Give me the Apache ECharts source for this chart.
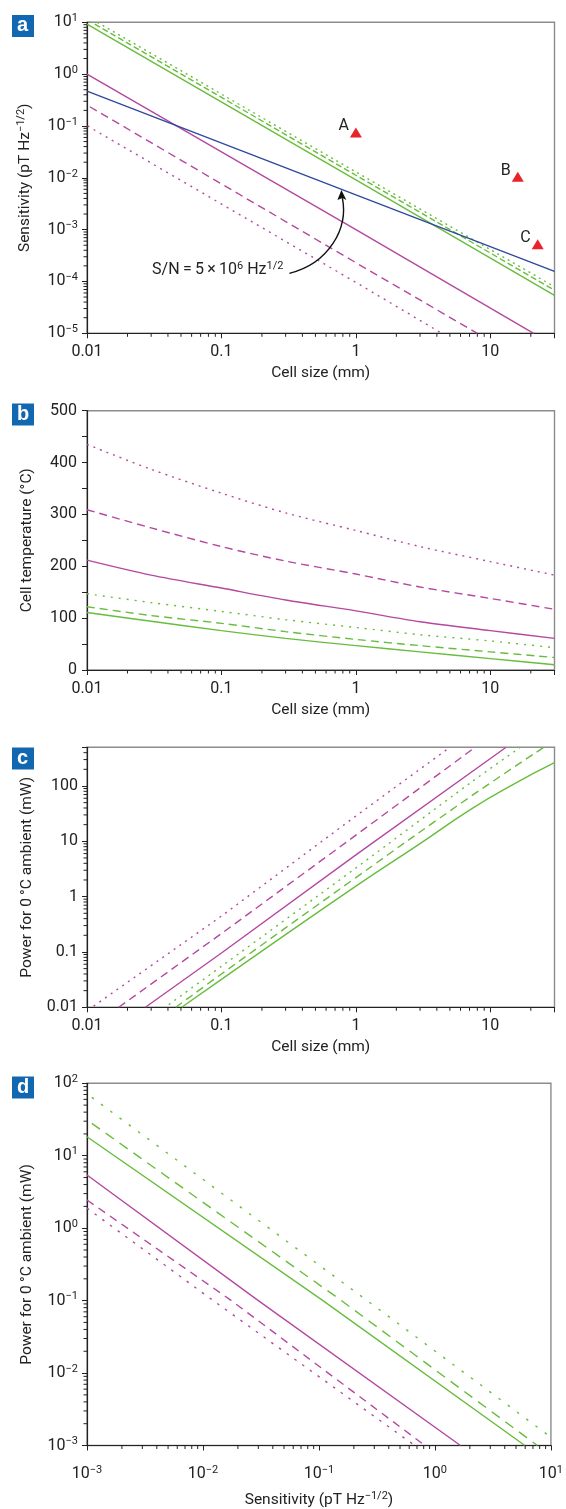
<!DOCTYPE html>
<html>
<head>
<meta charset="utf-8">
<script src="https://cdn.jsdelivr.net/npm/echarts@6/dist/echarts.min.js"></script>
<style>
html,body{margin:0;padding:0;background:#fff;}
#c{width:566px;height:1509px;}
</style>
</head>
<body>
<div id="c"></div>
<script>
// ---------------- DATA ----------------
// Panel a : sensitivity vs cell size  [cellSize_mm, sensitivity]
const a_greenSolid   = [[0.01, 9.2], [1, 9.1e-3], [30, 5.4e-5]];
const a_greenDashed  = [[0.01, 11.3], [1, 1.12e-2], [30, 6.8e-5]];
const a_greenDotted  = [[0.01, 13], [1, 1.3e-2], [30, 7.9e-5]];
const a_magSolid     = [[0.01, 1.0], [1, 1.0e-3], [21, 1.0e-5]];
const a_magDashed    = [[0.0105, 0.235], [1, 2.3e-4], [8, 1.0e-5]];
const a_magDotted    = [[0.0101, 0.1], [1, 9.6e-5], [4.35, 1.0e-5]];
const a_blue         = [[0.01, 0.47], [1, 4.7e-3], [30, 1.57e-4]];
const a_points       = [['A', 1.0, 0.075], ['B', 16, 0.0105], ['C', 22.5, 5.2e-4]];
const a_annotText    = 'S/N\u2009=\u20095\u2009\u00d7\u200910{sup|6} Hz{sup|1/2}';
const a_annotAnchor  = [0.0305, 1.65e-4];   // left end of the annotation text
const a_arrowStart   = [0.32, 1.43e-4];
const a_arrowTip     = [0.78, 5.8e-3];

// Panel b : cell temperature vs cell size
const b_x          = [0.01, 0.03, 0.1, 0.3, 1, 3, 10, 30];
const b_magDotted  = [435, 387, 341, 303, 269, 238, 209, 183];
const b_magDashed  = [309, 274, 238, 210, 185, 160, 138, 117];
const b_magSolid   = [212, 183, 158, 135, 114, 93, 76, 61];
const b_grnDotted  = [147, 130, 113, 97, 82, 68, 56, 43];
const b_grnDashed  = [122, 105, 90, 74, 59, 47, 35, 24];
const b_grnSolid   = [111, 94, 76, 61, 47, 35, 22, 10];

// Panel c : power vs cell size  [cellSize_mm, mW]
const c_magDotted = [[0.0112, 0.0105], [0.1, 0.445], [1, 28.7], [5.0, 500]];
const c_magDashed = [[0.0172, 0.01], [0.1, 0.215], [1, 12.9], [7.7, 500]];
const c_magSolid  = [[0.0272, 0.01], [0.1, 0.096], [1, 5.7], [13.1, 500]];
const c_grnDotted = [[0.0406, 0.0112], [0.1, 0.055], [1, 3.3], [7.1, 114], [16.7, 500]];
const c_grnDashed = [[0.0457, 0.01], [0.1, 0.04], [1, 2.21], [7.1, 64], [25, 500]];
const c_grnSolid  = [[0.0506, 0.01], [0.1, 0.032], [1, 1.55], [3, 9.1], [7.1, 37.5], [14.6, 105], [30, 263]];

// Panel d : power vs sensitivity [pT/Hz^1/2, mW]
const d_grnDotted = [[0.0011, 64], [0.318, 0.079], [9.3, 0.00142]];
const d_grnDashed = [[0.0011, 28], [0.15, 0.105], [7.64, 0.001]];
const d_grnSolid  = [[0.001, 18.3], [0.106, 0.1026], [5.96, 0.001]];
const d_magSolid  = [[0.001, 5.43], [0.0294, 0.1026], [1.66, 0.001]];
const d_magDashed = [[0.001, 2.45], [0.0172, 0.1026], [0.82, 0.001]];
const d_magDotted = [[0.001, 1.89], [0.012, 0.1026], [0.67, 0.001]];

// axis ranges / labels
const panelLetters = ['a', 'b', 'c', 'd'];
const xNames = ['Cell size (mm)', 'Cell size (mm)', 'Cell size (mm)', 'Sensitivity (pT Hz{sup|\u22121/2})'];
const yNames = ['Sensitivity (pT Hz{sup|\u22121/2})', 'Cell temperature (\u00b0C)', 'Power for 0\u2009\u00b0C ambient (mW)', 'Power for 0\u2009\u00b0C ambient (mW)'];
const xRanges = [[0.01, 30], [0.01, 30], [0.01, 30], [0.001, 10]];
const yRanges = [[1e-5, 10], [0, 500], [0.01, 500], [0.001, 100]];

// ---------------- STYLE ----------------
const FONT = "Roboto,'Liberation Sans',sans-serif";
const MAG = '#b5489f', GRN = '#68bd3c', BLU = '#2f4a9e', RED = '#e8232a', INK = '#222';
const grids = [
  {left: 87, right: 11.5, top: 22.3, height: 311},
  {left: 87, right: 11.5, top: 410.7, height: 259.3},
  {left: 87, right: 11.5, top: 747.3, height: 260},
  {left: 87, right: 11.5, top: 1083.3, height: 362.7}
].map(g => Object.assign({show: true, borderColor: '#8c8c8c', borderWidth: 1.4, backgroundColor: '#fff'}, g));

const SUP = {fontSize: 11, fontFamily: FONT, color: INK, padding: [0, 0, 8, 0]};
const SUPN = {fontSize: 11, fontFamily: FONT, color: INK, padding: [0, 0, 8, 0]};

function isPow10(v) { const l = Math.log10(v); return Math.abs(l - Math.round(l)) < 1e-6; }
function decFmt(v) {
  if (!isPow10(v)) return '';
  const k = Math.round(Math.log10(v));
  return k < 0 ? Math.pow(10, k).toFixed(-k) : String(Math.pow(10, k));
}
function expFmt(v) {
  if (!isPow10(v)) return '';
  const k = Math.round(Math.log10(v));
  return '10{sup|' + String(k).replace('-', '\u2212') + '}';
}

function baseAxis(extra) {
  return Object.assign({
    nameLocation: 'middle',
    nameTextStyle: {fontFamily: FONT, fontSize: 15.5, color: INK, rich: {sup: SUPN}},
    axisLine: {show: true, onZero: false, lineStyle: {color: INK, width: 1.2}},
    axisTick: {show: true, length: 5, lineStyle: {color: INK, width: 1}},
    splitLine: {show: false},
    axisLabel: {fontFamily: FONT, fontSize: 16, color: INK, margin: 10, rich: {sup: SUP}}
  }, extra);
}

const xAxes = [0, 1, 2, 3].map(i => {
  const ax = baseAxis({
    type: 'log', logBase: 10, gridIndex: i, min: xRanges[i][0], max: xRanges[i][1],
    name: xNames[i], nameGap: i === 3 ? 45 : 32
  });
  ax.axisLabel = Object.assign({}, ax.axisLabel, {formatter: i === 3 ? expFmt : decFmt, margin: i === 3 ? 19 : 11});
  return ax;
});
const yAxes = [0, 1, 2, 3].map(i => {
  const ax = baseAxis({
    type: i === 1 ? 'value' : 'log', gridIndex: i, min: yRanges[i][0], max: yRanges[i][1],
    name: yNames[i], nameGap: 52
  });
  if (i === 1) {
    ax.interval = 50;
    ax.axisLabel = Object.assign({}, ax.axisLabel, {formatter: v => (v % 100 === 0 ? String(v) : '')});
  } else {
    ax.logBase = 10;
    ax.axisLabel = Object.assign({}, ax.axisLabel, {formatter: (i === 2) ? decFmt : expFmt, margin: 9});
  }
  return ax;
});

function line(g, data, color, type, width) {
  return {
    type: 'line', xAxisIndex: g, yAxisIndex: g, data: data, symbol: 'none', showSymbol: false,
    clip: true, silent: true, z: 3,
    lineStyle: {color: color, width: width || 1.4, type: type || 'solid', cap: 'butt'}
  };
}
function zipXY(xs, ys) { return xs.map((x, k) => [x, ys[k]]); }

// minor ticks for log axes drawn through the axis scales
function minorValues(lo, hi) {
  const out = [];
  for (let k = Math.floor(Math.log10(lo)); k <= Math.ceil(Math.log10(hi)); k++) {
    for (let m = 2; m <= 9; m++) {
      const v = m * Math.pow(10, k);
      if (v > lo * 1.0001 && v < hi * 0.9999) out.push(v);
    }
  }
  return out;
}
function minorTickSeries(g, doX, doY) {
  const xr = xRanges[g], yr = yRanges[g];
  const data = [];
  if (doX) minorValues(xr[0], xr[1]).forEach(v => data.push([v, yr[0] || 1, 0]));
  if (doY) minorValues(yr[0], yr[1]).forEach(v => data.push([xr[0], v, 1]));
  return {
    type: 'custom', xAxisIndex: g, yAxisIndex: g, silent: true, z: 6, clip: false,
    data: data,
    renderItem: function (params, api) {
      const cs = params.coordSys;
      const p = api.coord([api.value(0), api.value(1)]);
      if (api.value(2) === 0) {
        const yb = cs.y + cs.height;
        return {type: 'line', shape: {x1: p[0], y1: yb, x2: p[0], y2: yb + 3.5}, style: {stroke: INK, lineWidth: 1}};
      }
      return {type: 'line', shape: {x1: cs.x, y1: p[1], x2: cs.x - 3.5, y2: p[1]}, style: {stroke: INK, lineWidth: 1}};
    }
  };
}

const series = [
  // panel a
  line(0, a_greenDotted, GRN, [2, 4]),
  line(0, a_greenDashed, GRN, [6, 3]),
  line(0, a_greenSolid, GRN),
  line(0, a_magDotted, MAG, [2, 5]),
  line(0, a_magDashed, MAG, [8, 5]),
  line(0, a_magSolid, MAG),
  line(0, a_blue, BLU),
  {
    type: 'scatter', xAxisIndex: 0, yAxisIndex: 0, symbol: 'triangle', symbolSize: [12, 10],
    itemStyle: {color: RED, opacity: 1}, z: 5, silent: true,
    data: a_points.map(p => ({name: p[0], value: [p[1], p[2]]})),
    label: {show: true, position: 'left', distance: 1, offset: [0, -6], formatter: '{b}',
            fontFamily: FONT, fontSize: 16, color: INK}
  },
  // panel b
  Object.assign(line(1, zipXY(b_x, b_magDotted), MAG, [2, 5]), {smooth: 0.3}),
  Object.assign(line(1, zipXY(b_x, b_magDashed), MAG, [8, 5]), {smooth: 0.3}),
  Object.assign(line(1, zipXY(b_x, b_magSolid), MAG), {smooth: 0.3}),
  Object.assign(line(1, zipXY(b_x, b_grnDotted), GRN, [2, 6]), {smooth: 0.3}),
  Object.assign(line(1, zipXY(b_x, b_grnDashed), GRN, [8, 5]), {smooth: 0.3}),
  Object.assign(line(1, zipXY(b_x, b_grnSolid), GRN), {smooth: 0.3}),
  // panel c
  line(2, c_magDotted, MAG, [2, 5]),
  line(2, c_magDashed, MAG, [8, 5]),
  line(2, c_magSolid, MAG),
  Object.assign(line(2, c_grnDotted, GRN, [2, 5]), {smooth: 0.3}),
  Object.assign(line(2, c_grnDashed, GRN, [8, 5]), {smooth: 0.4}),
  Object.assign(line(2, c_grnSolid, GRN), {smooth: 0.5}),
  // panel d
  line(3, d_grnDotted, GRN, [2.5, 9]),
  line(3, d_grnDashed, GRN, [10, 7]),
  line(3, d_grnSolid, GRN),
  line(3, d_magSolid, MAG),
  line(3, d_magDashed, MAG, [8, 6]),
  line(3, d_magDotted, MAG, [2.5, 7]),
  // minor ticks
  minorTickSeries(0, true, true),
  minorTickSeries(1, true, false),
  minorTickSeries(2, true, true),
  minorTickSeries(3, true, true)
];

const chart = echarts.init(document.getElementById('c'), null, {renderer: 'canvas', width: 566, height: 1509});
chart.setOption({
  animation: false,
  backgroundColor: '#fff',
  textStyle: {fontFamily: FONT},
  grid: grids,
  xAxis: xAxes,
  yAxis: yAxes,
  series: series
});

// ---------------- decorations (panel letters, annotation) ----------------
const letterTops = [15, 403.5, 747.5, 1076.5];
const graphics = [];
panelLetters.forEach((L, i) => {
  graphics.push({type: 'rect', left: 12, top: letterTops[i], shape: {width: 22, height: 22}, style: {fill: '#1268b0'}, z: 10});
  graphics.push({type: 'text', left: 17, top: letterTops[i] + 0.5,
    style: {text: L, fill: '#fff', font: "bold 20px 'Liberation Sans','DejaVu Sans',sans-serif"}, z: 11});
});
const tA = chart.convertToPixel({gridIndex: 0}, a_annotAnchor);
const s0 = chart.convertToPixel({gridIndex: 0}, a_arrowStart);
const tip = chart.convertToPixel({gridIndex: 0}, a_arrowTip);
graphics.push({
  type: 'text', x: tA[0], y: tA[1], z: 12,
  style: {text: a_annotText, fill: INK, fontFamily: FONT, fontSize: 16, verticalAlign: 'middle', align: 'left',
          rich: {sup: {fontSize: 11, fontFamily: FONT, fill: INK, padding: [0, 0, 8, 0]}}}
});
graphics.push({
  type: 'bezierCurve', z: 12,
  shape: {x1: s0[0], y1: s0[1], cpx1: s0[0] + 40, cpy1: s0[1] - 10, cpx2: tip[0] + 7, cpy2: tip[1] + 38, x2: tip[0] + 1, y2: tip[1] + 8},
  style: {stroke: '#111', lineWidth: 1.4, fill: null}
});
graphics.push({
  type: 'polygon', z: 12,
  shape: {points: [[tip[0], tip[1]], [tip[0] - 4, tip[1] + 10], [tip[0] + 1, tip[1] + 8], [tip[0] + 5, tip[1] + 10]]},
  style: {fill: '#111'}
});
chart.setOption({graphic: graphics});
</script>
</body>
</html>
